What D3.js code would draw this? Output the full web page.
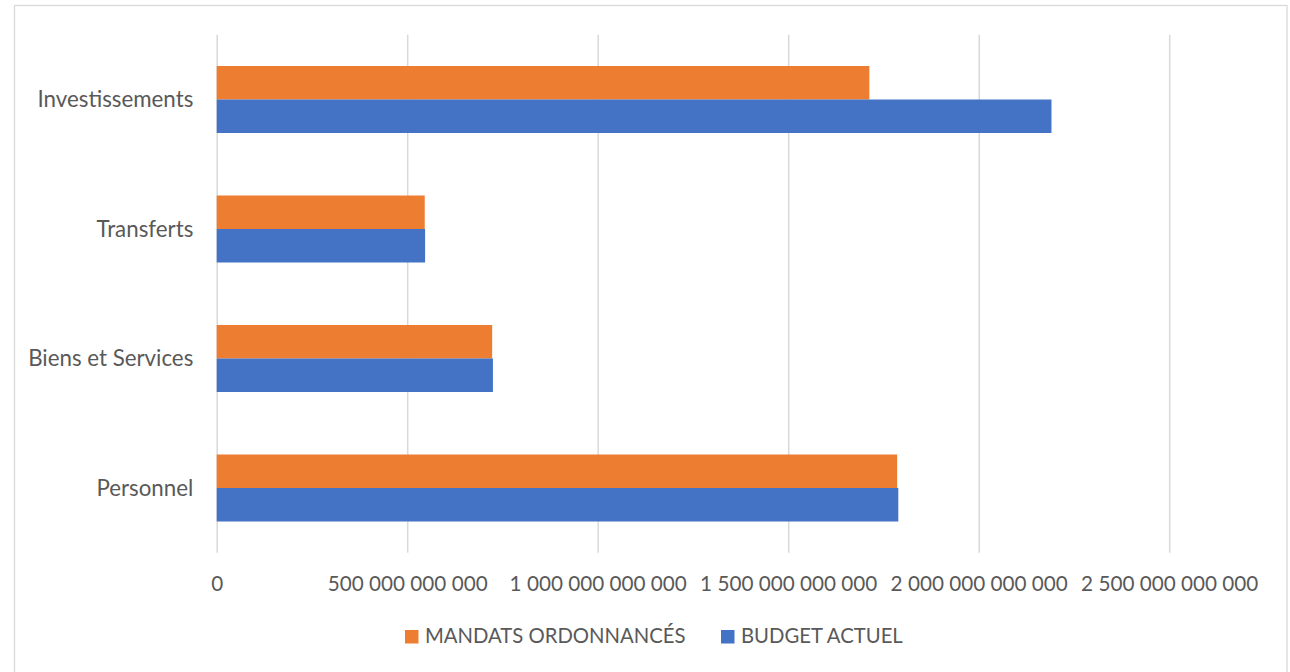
<!DOCTYPE html>
<html>
  <head>
    <meta charset="utf-8">
    <title>Mandats ordonnancés vs budget actuel</title>
    <style>
      body { margin: 0; background: #fff; }
      text { font-family: Lato, "Open Sans", sans-serif; fill: #595959; }
    </style>
  </head>
  <body>
    <div id="chart"></div>
    <script src="https://cdn.jsdelivr.net/npm/d3@7"></script>
    <script>

        // data
        var categories = ['Investissements', 'Transferts', 'Biens et Services', 'Personnel'];
        var seriesNames = ['MANDATS ORDONNANCÉS', 'BUDGET ACTUEL'];
        var mandats = [1713e9, 546e9, 723e9, 1786e9];
        var budget = [2191e9, 547e9, 725e9, 1789e9];
        var tickValues = [0, 500e9, 1000e9, 1500e9, 2000e9, 2500e9];
        var colors = ['#ed7d31', '#4472c4'];

        var width = 1290;
        var height = 672;

        var svg = d3.select('#chart')
          .append('svg')
          .attr('width', width)
          .attr('height', height);

        // chart border
        svg.append('rect')
          .attr('x', 14.5).attr('y', 5.5)
          .attr('width', 1272.5).attr('height', 700)
          .attr('fill', 'none')
          .attr('stroke', '#d9d9d9')
          .attr('stroke-width', 1.3);

        var x = d3.scaleLinear()
          .domain([0, 2500e9])
          .range([216.7, 1169.2]);

        var y = d3.scaleBand()
          .domain(categories)
          .range([34.75, 552.75])
          .paddingInner(0.4826)
          .paddingOuter(0.2413);

        var ySub = d3.scaleBand()
          .domain(seriesNames)
          .range([0, y.bandwidth()]);

        // gridlines + tick labels
        var xAxis = d3.axisBottom(x)
          .tickValues(tickValues)
          .tickSize(-(552.75 - 34.75))
          .tickFormat(function(d) {
            return d3.format(',.0f')(d).replace(/,/g, ' ');
          });

        var gx = svg.append('g')
          .attr('transform', 'translate(0,552.75)')
          .call(xAxis);
        gx.select('.domain').remove();
        gx.selectAll('.tick line')
          .attr('stroke', '#d9d9d9')
          .attr('stroke-width', 1.5);
        gx.selectAll('.tick text')
          .attr('y', 38)
          .attr('dy', 0)
          .style('font-size', '20.7px')
          .style('font-family', 'Lato, sans-serif')
          .attr('fill', '#595959');

        // bars
        var rows = categories.map(function(c, i) {
          return { cat: c, values: [mandats[i], budget[i]] };
        });

        var groups = svg.selectAll('g.cat')
          .data(rows)
          .enter()
          .append('g')
          .attr('class', 'cat')
          .attr('transform', function(d) { return 'translate(0,' + y(d.cat) + ')'; });

        groups.selectAll('rect')
          .data(function(d) {
            return d.values.map(function(v, j) { return { name: seriesNames[j], value: v, j: j }; });
          })
          .enter()
          .append('rect')
          .attr('x', x(0))
          .attr('y', function(d) { return ySub(d.name); })
          .attr('width', function(d) { return x(d.value) - x(0); })
          .attr('height', ySub.bandwidth())
          .attr('fill', function(d) { return colors[d.j]; });

        // category labels
        svg.selectAll('text.cat')
          .data(categories)
          .enter()
          .append('text')
          .attr('class', 'cat')
          .attr('x', 193.3)
          .attr('y', function(d) { return y(d) + y.bandwidth() / 2 + 7.5; })
          .attr('text-anchor', 'end')
          .style('font-size', '22.3px')
          .text(function(d) { return d; });

        // legend
        var legendX = [405, 721];
        var legend = svg.selectAll('g.legend')
          .data(seriesNames)
          .enter()
          .append('g')
          .attr('class', 'legend')
          .attr('transform', function(d, i) { return 'translate(' + legendX[i] + ',630)'; });

        legend.append('rect')
          .attr('width', 13.5)
          .attr('height', 13.5)
          .attr('fill', function(d, i) { return colors[i]; });

        legend.append('text')
          .attr('x', 20)
          .attr('y', 13.3)
          .style('font-size', '20.3px')
          .text(function(d) { return d; });

    </script>
  </body>
</html>
